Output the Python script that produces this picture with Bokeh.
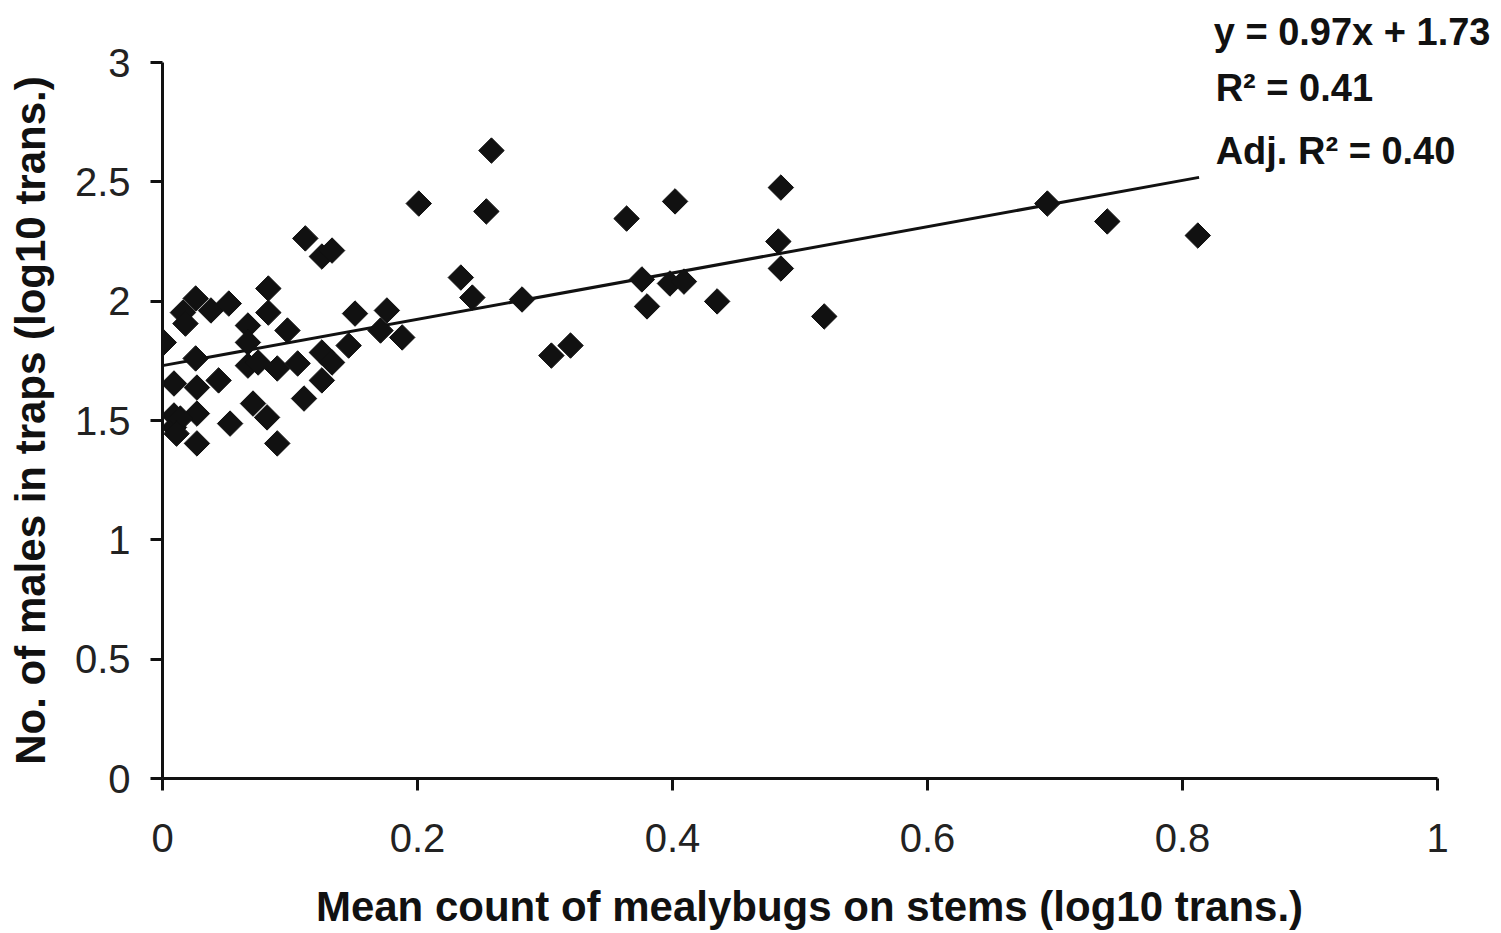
import math
from bokeh.plotting import figure
from bokeh.models import Range1d, Label, FixedTicker, Title
from bokeh.embed import file_html
from bokeh.resources import INLINE

# ---- data ----
mealybugs = [0.001, 0.026, 0.016, 0.018, 0.038, 0.052, 0.083, 0.083, 0.067, 0.098,
             0.026, 0.067, 0.067, 0.075, 0.090, 0.106, 0.009, 0.027, 0.044, 0.071,
             0.082, 0.053, 0.027, 0.009, 0.009, 0.014, 0.011, 0.027, 0.090, 0.111,
             0.125, 0.125, 0.133, 0.146, 0.151, 0.176, 0.171, 0.188, 0.112, 0.125,
             0.133, 0.201, 0.258, 0.254, 0.234, 0.243, 0.282, 0.305, 0.320, 0.364,
             0.376, 0.380, 0.402, 0.398, 0.409, 0.435, 0.485, 0.483, 0.485, 0.519,
             0.694, 0.741, 0.812]
males = [1.827, 2.011, 1.952, 1.906, 1.961, 1.990, 2.053, 1.952, 1.898, 1.877,
         1.760, 1.827, 1.730, 1.743, 1.718, 1.739, 1.655, 1.638, 1.668, 1.571,
         1.513, 1.487, 1.529, 1.521, 1.471, 1.508, 1.445, 1.404, 1.404, 1.592,
         1.668, 1.785, 1.743, 1.814, 1.948, 1.961, 1.877, 1.848, 2.263, 2.187,
         2.212, 2.409, 2.631, 2.376, 2.099, 2.015, 2.007, 1.772, 1.814, 2.346,
         2.091, 1.978, 2.418, 2.074, 2.082, 1.999, 2.476, 2.250, 2.137, 1.936,
         2.409, 2.334, 2.275]

fit_slope = 0.97
fit_intercept = 1.73
fit_x = [0.0, 0.813]
fit_y = [fit_slope * v + fit_intercept for v in fit_x]

x_ticks = [0, 0.2, 0.4, 0.6, 0.8, 1]
x_tick_labels = ["0", "0.2", "0.4", "0.6", "0.8", "1"]
y_ticks = [0, 0.5, 1, 1.5, 2, 2.5, 3]
y_tick_labels = ["0", "0.5", "1", "1.5", "2", "2.5", "3"]

x_title = "Mean count of mealybugs on stems (log10 trans.)"
y_title = "No. of males in traps (log10 trans.)"
equation_text = "y = 0.97x + 1.73"
stat_texts = ["R\u00b2 = 0.41", "Adj. R\u00b2 = 0.40"]
stat_y = [2.895, 2.631]

FONT = "Liberation Sans"

# frame is widened slightly past x=1 so the statistics are not clipped;
# the x axis is bounded to 0..1
p = figure(width=1500, height=932, output_backend="svg", toolbar_location=None,
           x_range=Range1d(0, 1.0149), y_range=Range1d(0, 3),
           min_border_left=162, min_border_right=44, min_border_top=62,
           min_border_bottom=154)
p.outline_line_color = None
p.grid.visible = False
p.background_fill_color = "white"
p.border_fill_color = "white"

p.line(fit_x, fit_y, line_color="#111111", line_width=3)
p.scatter(mealybugs, males, marker="square", size=18, angle=math.pi / 4,
          fill_color="#111111", line_color="#111111", line_width=1)

for ax, ticks, labels in ((p.xaxis[0], x_ticks, x_tick_labels),
                          (p.yaxis[0], y_ticks, y_tick_labels)):
    ax.ticker = FixedTicker(ticks=ticks)
    ax.bounds = (ticks[0], ticks[-1])
    ax.major_label_overrides = {t: l for t, l in zip(ticks, labels)}
    ax.axis_line_width = 3
    ax.axis_line_color = "#111111"
    ax.major_tick_line_width = 3
    ax.major_tick_line_color = "#111111"
    ax.major_tick_out = 12
    ax.major_tick_in = 0
    ax.minor_tick_line_color = None
    ax.major_label_text_font = FONT
    ax.major_label_text_font_size = "40px"
    ax.major_label_text_color = "#222222"
    ax.axis_label_text_font = FONT
    ax.axis_label_text_font_style = "bold"
    ax.axis_label_text_font_size = "42px"
    ax.axis_label_text_color = "#111111"

p.xaxis.axis_label = x_title
p.yaxis.axis_label = y_title
p.xaxis.major_label_standoff = 33
p.yaxis.major_label_standoff = 20
p.xaxis.axis_label_standoff = 28
p.yaxis.axis_label_standoff = 18

# regression equation sits above the plot frame -> title panel (not clipped)
p.add_layout(Title(text=equation_text, align="right", offset=-34,
                   vertical_align="top", standoff=16, text_font=FONT,
                   text_font_style="bold", text_font_size="38px",
                   text_color="#111111"), "above")

for txt, yy in zip(stat_texts, stat_y):
    p.add_layout(Label(x=0.826, y=yy, text=txt, text_font=FONT,
                       text_font_style="bold", text_font_size="38px",
                       text_color="#111111", text_baseline="alphabetic"))

open("out.html", "w").write(file_html(p, INLINE))
